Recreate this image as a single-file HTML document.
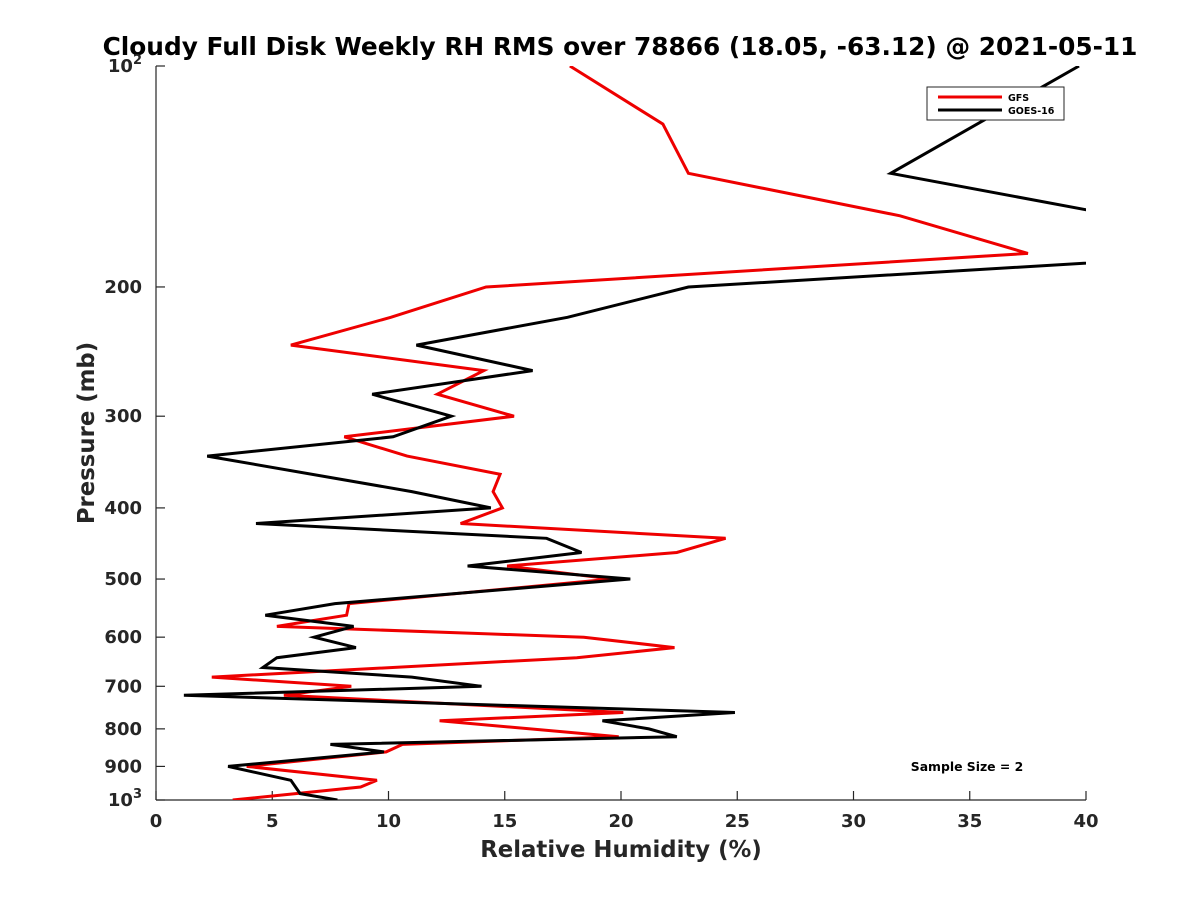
<!DOCTYPE html>
<html><head><meta charset="utf-8"><style>
body{margin:0;background:#fff;}
svg{display:block;font-family:"DejaVu Sans","Liberation Sans",sans-serif;font-weight:bold;}
</style></head><body>
<svg id="chart" width="1200" height="900" viewBox="0 0 1200 900">
<defs><clipPath id="clip"><rect x="156" y="66" width="930" height="734"/></clipPath></defs>
<rect width="1200" height="900" fill="#fff"/>
<text x="620" y="55" text-anchor="middle" font-size="24.8" fill="#000">Cloudy Full Disk Weekly RH RMS over 78866 (18.05, -63.12) @ 2021-05-11</text>
<g id="axes"></g>
<g id="series" clip-path="url(#clip)"></g>
<text x="621" y="857" text-anchor="middle" font-size="22.8" fill="#262626">Relative Humidity (%)</text>
<text transform="translate(94,433) rotate(-90)" text-anchor="middle" font-size="22.8" fill="#262626">Pressure (mb)</text>
<text x="967" y="771" text-anchor="middle" font-size="12.4" fill="#000">Sample Size = 2</text>
<g>
<rect x="927" y="87" width="137" height="33" fill="#fff" stroke="#262626" stroke-width="1"/>
<line x1="938" y1="97" x2="1002" y2="97" stroke="#e00" stroke-width="3"/>
<text x="1008" y="101" font-size="9.5" fill="#000">GFS</text>
<line x1="938" y1="110" x2="1002" y2="110" stroke="#000" stroke-width="3"/>
<text x="1008" y="114" font-size="9.5" fill="#000">GOES-16</text>
</g>
</svg>
<script>
const gfsP=[100,120,140,160,180,200,220,240,260,280,300,320,340,360,380,400,420,440,460,480,500,540,560,580,600,620,640,680,700,720,760,780,820,840,860,900,940,960,1000];
const gfsRH=[17.8,21.8,22.9,32.0,37.5,14.2,10.1,5.8,14.1,12.1,15.4,8.1,10.8,14.8,14.5,14.9,13.1,24.5,22.4,15.1,19.6,8.3,8.2,5.2,18.4,22.3,18.1,2.4,8.4,5.5,20.1,12.2,19.9,10.6,9.9,3.9,9.5,8.8,3.3];
const goesP=[100,140,160,180,200,220,240,260,280,300,320,340,380,400,420,440,460,480,500,540,560,580,600,620,640,660,680,700,720,760,780,800,820,840,860,900,940,980,1000];
const goesRH=[39.7,31.6,41.4,47,22.9,17.7,11.2,16.2,9.3,12.7,10.2,2.2,11.0,14.4,4.3,16.8,18.3,13.4,20.4,7.7,4.7,8.5,6.8,8.6,5.2,4.6,11.0,14.0,1.2,24.9,19.2,21.2,22.4,7.5,9.8,3.1,5.8,6.2,7.8];
const xTicks=[0,5,10,15,20,25,30,35,40];
const yTicks=[100,200,300,400,500,600,700,800,900,1000];
const X0=156,X1=1086,Y0=66,Y1=800;
const xs=v=>X0+(v-0)/40*(X1-X0);
const ys=p=>Y0+Math.log10(p/100)*(Y1-Y0);
const NS='http://www.w3.org/2000/svg';
const axes=document.getElementById('axes'),series=document.getElementById('series');
function mk(t,a,parent){const e=document.createElementNS(NS,t);for(const k in a)e.setAttribute(k,a[k]);parent.appendChild(e);return e;}
let el=mk('line',{x1:X0,y1:Y0,x2:X0,y2:Y1,stroke:'#262626','stroke-width':1.2},axes);


el=mk('line',{x1:X0,y1:Y1,x2:X1,y2:Y1,stroke:'#262626','stroke-width':1.2},axes);


xTicks.forEach(v=>{
  const x=xs(v);
  let t=mk('line',{x1:x,y1:Y1,x2:x,y2:Y1-9,stroke:'#262626','stroke-width':1.2},axes);
  
  
  let l=mk('text',{x:x,y:Y1+27,'text-anchor':'middle','font-size':18,fill:'#262626'},axes);
  l.textContent=v;
  
  
});
yTicks.forEach(p=>{
  const y=ys(p);
  let t=mk('line',{x1:X0,y1:y,x2:X0+9,y2:y,stroke:'#262626','stroke-width':1.2},axes);
  
  
  let l=mk('text',{x:X0-14,y:y+6,'text-anchor':'end','font-size':18,fill:'#262626'},axes);
  if(p===100||p===1000){
    l.textContent='10';
    const s=mk('tspan',{dy:-8,'font-size':13},l);
    s.textContent=p===100?'2':'3';
  } else l.textContent=p;
  
  
});
function line(P,R,color,name){
  const pts=P.map((p,i)=>xs(R[i]).toFixed(1)+','+ys(p).toFixed(1)).join(' ');
  const e=mk('polyline',{points:pts,fill:'none',stroke:color,'stroke-width':3,'stroke-linejoin':'miter'},series);
  
  
}
line(gfsP,gfsRH,'#e00','gfs-line');
line(goesP,goesRH,'#000','goes16-line');
</script>
</body></html>
